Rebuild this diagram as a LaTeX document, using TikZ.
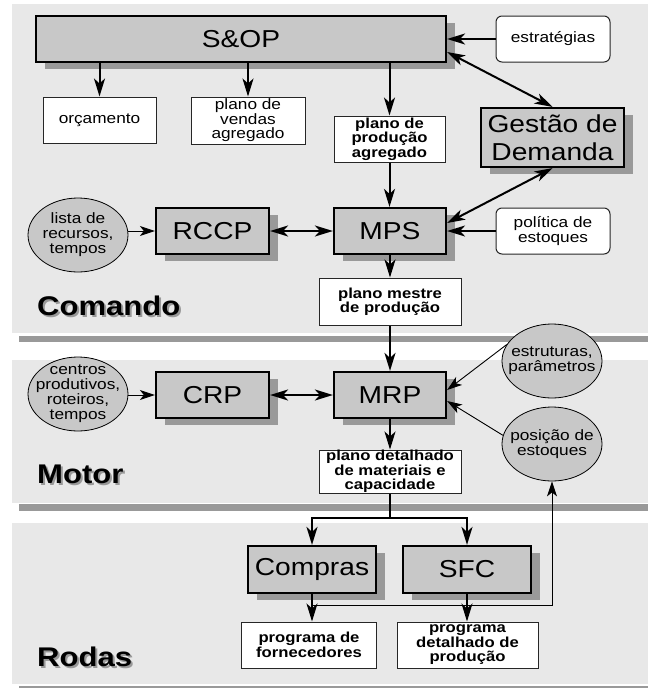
\documentclass[tikz,border=0pt]{standalone}
\usepackage{fontspec}
\setmainfont{Liberation Sans}[FakeStretch=1.15]
\usetikzlibrary{arrows.meta,shapes.geometric,shadows,calc}
\definecolor{panelgray}{HTML}{E8E8E8}
\definecolor{boxgray}{HTML}{C8C8C8}
\definecolor{shadowgray}{HTML}{999999}
\tikzset{
  gbox/.style={draw=black, line width=2.2pt, fill=boxgray, minimum height=46pt,
    inner sep=0pt, align=center, font=\fontsize{24.5}{28}\selectfont,
    drop shadow={shadow xshift=9pt, shadow yshift=-7pt, fill=shadowgray, opacity=1}},
  wbox/.style={draw=black!85, line width=1pt, fill=white, inner sep=0pt,
    align=center, font=\fontsize{15}{14.5}\selectfont},
  bbox/.style={wbox, font=\bfseries\fontsize{14.5}{14.5}\selectfont},
  rbox/.style={wbox, rounded corners=6pt},
  ovalnode/.style={ellipse, draw=black, line width=0.8pt, fill=boxgray,
    minimum width=100pt, minimum height=74pt, inner sep=0pt},
  ovaltext/.style={align=center, inner sep=0pt, font=\fontsize{15}{15}\selectfont},
  bighead/.tip={Stealth[length=18pt,width=11pt,inset=5pt]},
  thinhead/.tip={Stealth[length=15pt,width=10pt,inset=4pt]},
  arr/.style={line width=2pt, -bighead},
  darr/.style={line width=2pt, bighead-bighead},
  tarr/.style={line width=0.9pt, -thinhead},
  seclabel/.style={font=\bfseries\fontsize{27}{30}\selectfont, anchor=west, inner sep=0pt},
}
% layer title: black text over a grey copy shifted right and down
\newcommand{\layertitle}[1]{\makebox[0pt][l]{\hspace{2pt}\raisebox{-2pt}{\textcolor{shadowgray}{#1}}}#1}
\begin{document}
\begin{tikzpicture}[x=1pt,y=-1pt]
\useasboundingbox (0,0) rectangle (648,688);

% three layers: Comando, Motor, Rodas
\fill[shadowgray] (19,336) rectangle (648,342);
\fill[panelgray] (12,4) rectangle (648,333);
\fill[shadowgray] (19,504) rectangle (648,511);
\fill[panelgray] (12,360) rectangle (648,503);
\fill[shadowgray] (19,686) rectangle (648,688);
\fill[panelgray] (12,523) rectangle (648,684);

% layer titles
\node[seclabel] (cmd) at (37,307) {\layertitle{Comando}};
\node[seclabel] (mot) at (37,475) {\layertitle{Motor}};
\node[seclabel] (rod) at (37,658) {\layertitle{Rodas}};

% Comando
\node[gbox, minimum width=410pt] (sop) at (241,39) {S\&OP};
\node[rbox, minimum width=114pt, minimum height=46pt] (estr) at (553,39) {estratégias};
\node[gbox, minimum width=143pt, minimum height=59pt] (gdem) at (552.5,137.5) {Gestão de\\Demanda};
\node[wbox, minimum width=113pt, minimum height=46pt] (orc) at (99.5,120) {orçamento};
\node[wbox, minimum width=114pt, minimum height=47pt] (pva) at (248,120.5) {plano de\\vendas\\agregado};
\node[bbox, minimum width=111pt, minimum height=46pt] (ppa) at (389.5,139) {plano de\\produção\\agregado};
\node[gbox, minimum width=112pt] (mps) at (390,231) {MPS};
\node[gbox, minimum width=113pt] (rccp) at (212.5,231) {RCCP};
\node[ovalnode, label={[ovaltext]center:lista de\\recursos,\\tempos}] (lista) at (78,235) {};
\node[rbox, minimum width=114pt, minimum height=46pt] (pol) at (553,231) {política de\\estoques};
\node[bbox, minimum width=142pt, minimum height=47pt] (pmp) at (390,301.5) {plano mestre\\de produção};

% Motor
\node[gbox, minimum width=112pt] (mrp) at (390,395) {MRP};
\node[gbox, minimum width=113pt] (crp) at (212.5,395) {CRP};
\node[ovalnode, label={[ovaltext]center:centros\\produtivos,\\roteiros,\\tempos}] (centros) at (78,394) {};
\node[ovalnode, label={[ovaltext]center:estruturas,\\parâmetros}] (estrut) at (552,361) {};
\node[ovalnode, label={[ovaltext]center:posição de\\estoques}] (posic) at (552,444) {};
\node[bbox, minimum width=142pt, minimum height=43pt] (pdmc) at (390,471.5) {plano detalhado\\de materiais e\\capacidade};

% Rodas
\node[gbox, minimum width=128pt, minimum height=47pt] (compras) at (312,569.5) {Compras};
\node[gbox, minimum width=128pt, minimum height=47pt] (sfc) at (467,569.5) {SFC};
\node[bbox, minimum width=135pt, minimum height=46pt] (pforn) at (309,645) {programa de\\fornecedores};
\node[bbox, minimum width=141pt, minimum height=46pt] (pdp) at (467.5,645) {programa\\detalhado de\\produção};

% connectors of the Comando layer
\draw[arr] (sop.south -| orc.north) -- (orc.north);
\draw[arr] (sop.south -| pva.north) -- (pva.north);
\draw[arr] (sop.south -| ppa.north) -- (ppa.north);
\draw[arr] (estr.west) -- (sop.east);
\draw[darr] ([yshift=-13pt]sop.east) -- (gdem.north);
\draw[darr] (gdem.south) -- ([yshift=8pt]mps.east);
\draw[arr] (ppa.south) -- (ppa.south |- mps.north);
\draw[tarr] (lista.east |- rccp.west) -- (rccp.west);
\draw[darr] (rccp.east) -- (mps.west);
\draw[line width=1.4pt, -bighead] (pol.west) -- (mps.east);
\draw[arr] (mps.south) -- (pmp.north);

% connectors of the Motor layer
\draw[arr] (pmp.south) -- (mrp.north);
\draw[tarr] (centros.east |- crp.west) -- (crp.west);
\draw[darr] (crp.east) -- (mrp.west);
\draw[tarr] (estrut.160) -- ([yshift=5pt]mrp.east);
\draw[tarr] (posic.170) -- ([yshift=-6pt]mrp.east);
\draw[arr] (mrp.south) -- (pdmc.north);

% connectors of the Rodas layer
\coordinate (fork) at ($(pdmc.south)+(0,24)$);
\draw[line width=2pt] (pdmc.south) -- (fork);
\draw[arr] (fork) -| (compras.north);
\draw[arr] (fork) -| (sfc.north);
\draw[arr] (compras.south) -- (compras.south |- pforn.north);
\draw[arr] (sfc.south) -- (sfc.south |- pdp.north);
\coordinate (fbstart) at ($(compras.south)+(0,11)$);
\draw[tarr] (fbstart) -| (posic.south);
\end{tikzpicture}
\end{document}
